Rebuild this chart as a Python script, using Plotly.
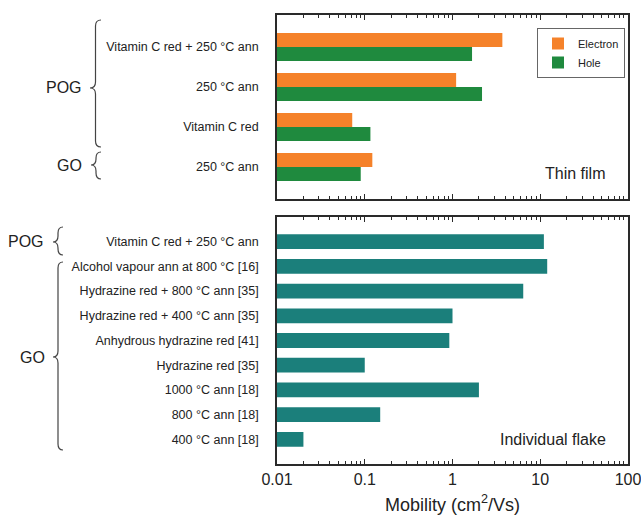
import plotly.graph_objects as go

# ---------------- data ----------------
film_labels = ["Vitamin C red + 250 °C ann", "250 °C ann", "Vitamin C red", "250 °C ann"]
film_electron = [3.7, 1.1, 0.072, 0.122]
film_hole = [1.67, 2.17, 0.116, 0.09]

flake_labels = [
    "Vitamin C red + 250 °C ann",
    "Alcohol vapour ann at 800 °C [16]",
    "Hydrazine red + 800 °C ann [35]",
    "Hydrazine red + 400 °C ann [35]",
    "Anhydrous hydrazine red [41]",
    "Hydrazine red [35]",
    "1000 °C ann [18]",
    "800 °C ann [18]",
    "400 °C ann [18]",
]
flake_mobility = [11.0, 12.0, 6.4, 1.0, 0.92, 0.1, 2.0, 0.15, 0.02]

x_tickvals = [0.01, 0.1, 1, 10, 100]
x_ticktext = ["0.01", "0.1", "1", "10", "100"]

# ---------------- style ----------------
W, H = 641, 515
FONT = "Liberation Sans, Arial, sans-serif"
ORANGE = "#F5822A"
GREEN = "#1F8A3E"
TEAL = "#1B7F7B"
AXC = "#2a2a2a"

def px(x):
    return x / W

def py(y):
    return 1 - y / H

film_pos = list(range(len(film_labels)))
flake_pos = list(range(len(flake_labels)))

fig = go.Figure()
fig.add_trace(go.Bar(
    y=film_pos, x=film_electron, orientation="h", name="Electron",
    marker=dict(color=ORANGE, line=dict(width=0)), width=0.35, offset=-0.35,
    xaxis="x", yaxis="y",
))
fig.add_trace(go.Bar(
    y=film_pos, x=film_hole, orientation="h", name="Hole",
    marker=dict(color=GREEN, line=dict(width=0)), width=0.35, offset=0,
    xaxis="x", yaxis="y",
))
fig.add_trace(go.Bar(
    y=flake_pos, x=flake_mobility, orientation="h", name="Individual flake",
    marker=dict(color=TEAL, line=dict(width=0)), width=0.6, offset=-0.3,
    xaxis="x2", yaxis="y2", showlegend=False,
))

xcommon = dict(
    type="log", range=[-2, 2], domain=[px(277), px(628)], automargin=False,
    showline=True, linecolor=AXC, linewidth=1.6, mirror="ticks",
    ticks="inside", ticklen=5, tickwidth=1.2, tickcolor=AXC,
    minor=dict(ticks="inside", ticklen=3, tickwidth=1, tickcolor=AXC, dtick="D1", showgrid=False),
    showgrid=False, zeroline=False,
    tickvals=x_tickvals, ticktext=x_ticktext, ticklabeloverflow="allow",
    tickfont=dict(family=FONT, size=16, color="#222"),
)
ycommon = dict(
    showline=True, linecolor=AXC, linewidth=1.6, mirror=True, automargin=False,
    ticks="", showgrid=False, zeroline=False,
    tickfont=dict(family=FONT, size=12.5, color="#222"),
    ticklabelstandoff=14,
)

fig.update_layout(
    width=W, height=H, autosize=False,
    margin=dict(l=0, r=0, t=0, b=0, autoexpand=False),
    paper_bgcolor="white", plot_bgcolor="white",
    barmode="overlay",
    font=dict(family=FONT, color="#222"),
    xaxis=dict(xcommon, anchor="y", showticklabels=False),
    yaxis=dict(ycommon, anchor="x", domain=[py(199), py(15)],
               range=[len(film_labels) - 0.2, -0.8],
               tickvals=film_pos, ticktext=film_labels),
    xaxis2=dict(xcommon, anchor="y2", matches="x",
                title=dict(text="Mobility (cm<sup>2</sup>/Vs)", font=dict(family=FONT, size=18, color="#222"), standoff=12)),
    yaxis2=dict(ycommon, anchor="x2", domain=[py(464), py(217)],
                range=[len(flake_labels), -1],
                tickvals=flake_pos, ticktext=flake_labels),
    legend=dict(
        x=px(537), y=py(28), xanchor="left", yanchor="top",
        bordercolor="#666", borderwidth=1, bgcolor="white",
        font=dict(family=FONT, size=11, color="#222"),
        tracegroupgap=0, itemwidth=30,
    ),
)

# text annotations
annos = [
    dict(text="Thin film", x=px(575), y=py(173), size=16),
    dict(text="Individual flake", x=px(553), y=py(439), size=16),
]
for a in annos:
    fig.add_annotation(text=a["text"], x=a["x"], y=a["y"], xref="paper", yref="paper",
                       showarrow=False, xanchor="center", yanchor="middle",
                       font=dict(family=FONT, size=a["size"], color="#222"))

groups = [
    # text, text right x, tip x, brace right x, y0, y1, ymid
    ("POG", 84, 90, 101, 20, 147, 88),
    ("GO", 84, 91, 101, 152, 179, 165),
    ("POG", 46, 53, 63, 227, 255, 242),
    ("GO", 47, 53, 63, 262, 450, 357),
]
for text, tx, x0, x1, y0, y1, ym in groups:
    fig.add_annotation(text=text, x=px(tx), y=py(ym), xref="paper", yref="paper",
                       showarrow=False, xanchor="right", yanchor="middle",
                       font=dict(family=FONT, size=16, color="#222"))
    xm = (x0 + x1) / 2
    r = min(6, (y1 - y0) / 4)
    pts = [
        ("M", [(x1, y0)]),
        ("Q", [(xm, y0), (xm, y0 + r)]),
        ("L", [(xm, ym - r)]),
        ("Q", [(xm, ym), (x0, ym)]),
        ("Q", [(xm, ym), (xm, ym + r)]),
        ("L", [(xm, y1 - r)]),
        ("Q", [(xm, y1), (x1, y1)]),
    ]
    path = " ".join(cmd + " " + " ".join(f"{px(a):.5f},{py(b):.5f}" for a, b in p) for cmd, p in pts)
    fig.add_shape(type="path", path=path, xref="paper", yref="paper",
                  line=dict(color="#444", width=1.2))

fig.write_html(
    "out.html",
    config={"displayModeBar": False},
    post_script="document.body.style.margin='0';document.body.style.padding='0';document.body.style.overflow='hidden';",
)
